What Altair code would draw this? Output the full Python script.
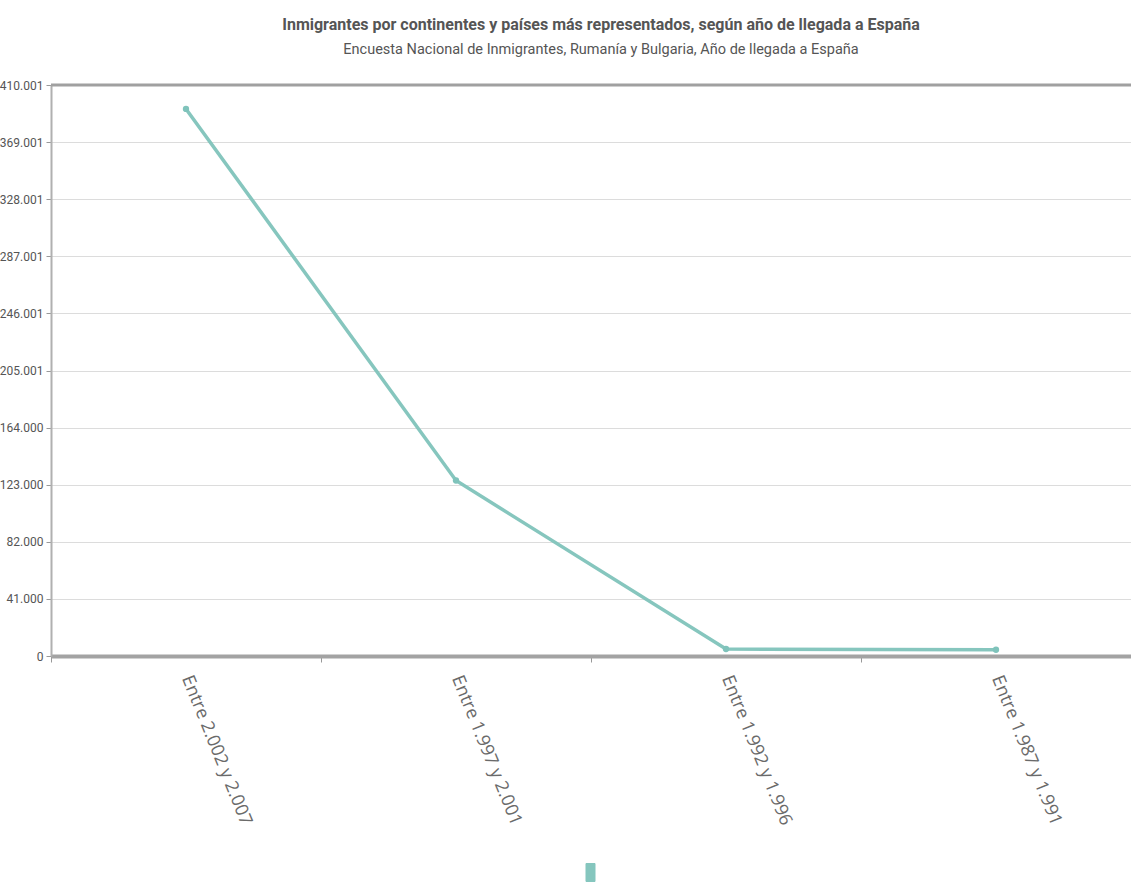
import altair as alt
import pandas as pd

# Arrival periods and number of immigrants (Rumanía y Bulgaria)
periodos = ["Entre 2.002 y 2.007", "Entre 1.997 y 2.001", "Entre 1.992 y 1.996", "Entre 1.987 y 1.991"]
inmigrantes = [392800, 126000, 5000, 4500]
serie = "Rumanía y Bulgaria"

# Y axis tick values and their printed labels
y_ticks = [0, 41000.1, 82000.2, 123000.3, 164000.4, 205000.5, 246000.6, 287000.7, 328000.8, 369000.9, 410001]
y_labels = ["0", "41.000", "82.000", "123.000", "164.000", "205.001", "246.001",
            "287.001", "328.001", "369.001", "410.001"]

df = pd.DataFrame({"periodo": periodos, "valor": inmigrantes, "serie": [serie] * len(periodos)})
top_df = pd.DataFrame({"valor": [y_ticks[-1]]})

TEAL = "#7fc3bb"
GREY_TXT = "#555555"
NARROW = "Liberation Sans Narrow, Roboto, sans-serif"

label_map = "{" + ",".join(f"'{v}':'{l}'" for v, l in zip(y_ticks, y_labels)) + "}"

x_enc = alt.X(
    "periodo:N",
    sort=periodos,
    title=None,
    scale=alt.Scale(paddingInner=0, paddingOuter=0),
    axis=alt.Axis(
        labelAngle=68,
        labelAlign="left",
        labelBaseline="middle",
        labelFont="Open Sans",
        labelFontSize=18,
        labelColor="#6a6a6a",
        labelPadding=14,
        domainColor="#a3a3a3",
        domainWidth=4,
        tickColor="#999999",
        tickSize=6,
        tickBand="extent",
        tickExtra=True,
        grid=False,
    ),
)

y_enc = alt.Y(
    "valor:Q",
    title=None,
    scale=alt.Scale(domain=[0, y_ticks[-1]], nice=False),
    axis=alt.Axis(
        values=y_ticks,
        labelExpr=f"{label_map}[datum.value] || datum.label",
        labelFont=NARROW,
        labelFontSize=12,
        labelColor=GREY_TXT,
        labelPadding=3,
        tickColor="#999999",
        tickSize=5,
        domainColor="#b0b0b0",
        domainWidth=2,
        gridColor="#dcdcdc",
        gridWidth=1,
    ),
)

line = alt.Chart(df).mark_line(strokeWidth=3.5, opacity=0.95).encode(
    x=x_enc,
    y=y_enc,
    color=alt.Color(
        "serie:N",
        scale=alt.Scale(range=[TEAL]),
        legend=alt.Legend(
            title=None,
            orient="none",
            legendX=524,
            legendY=772,
            labelExpr="''",
            symbolType="M-0.3,-0.6H0.3V0.6H-0.3Z",
            symbolSize=900,
            symbolFillColor=TEAL,
            symbolStrokeColor="#d0d0d0",
            symbolStrokeWidth=1,
            labelLimit=1,
        ),
    ),
)

points = alt.Chart(df).mark_point(filled=True, size=40, color=TEAL, opacity=1).encode(
    x=alt.X("periodo:N", sort=periodos),
    y="valor:Q",
)

top_rule = alt.Chart(top_df).mark_rule(color="#a0a0a0", strokeWidth=3).encode(y="valor:Q")

chart = (
    alt.layer(top_rule, line, points)
    .properties(
        width=1080,
        height=571,
        padding={"left": 51, "top": 85, "right": 0, "bottom": 234},
        autosize=alt.AutoSizeParams(type="none"),
        title=alt.TitleParams(
            text="Inmigrantes por continentes y países más representados, según año de llegada a España",
            subtitle="Encuesta Nacional de Inmigrantes, Rumanía y Bulgaria, Año de llegada a España",
            font=NARROW,
            fontSize=16,
            fontWeight="bold",
            color=GREY_TXT,
            subtitleFont=NARROW,
            subtitleFontSize=14.5,
            subtitleColor=GREY_TXT,
            subtitlePadding=10,
            anchor="middle",
            dx=10,
            offset=23,
        ),
    )
    .configure_view(stroke=None)
    .configure(background="white")
)

chart.save("out.html", embed_options={"renderer": "svg", "actions": False})
